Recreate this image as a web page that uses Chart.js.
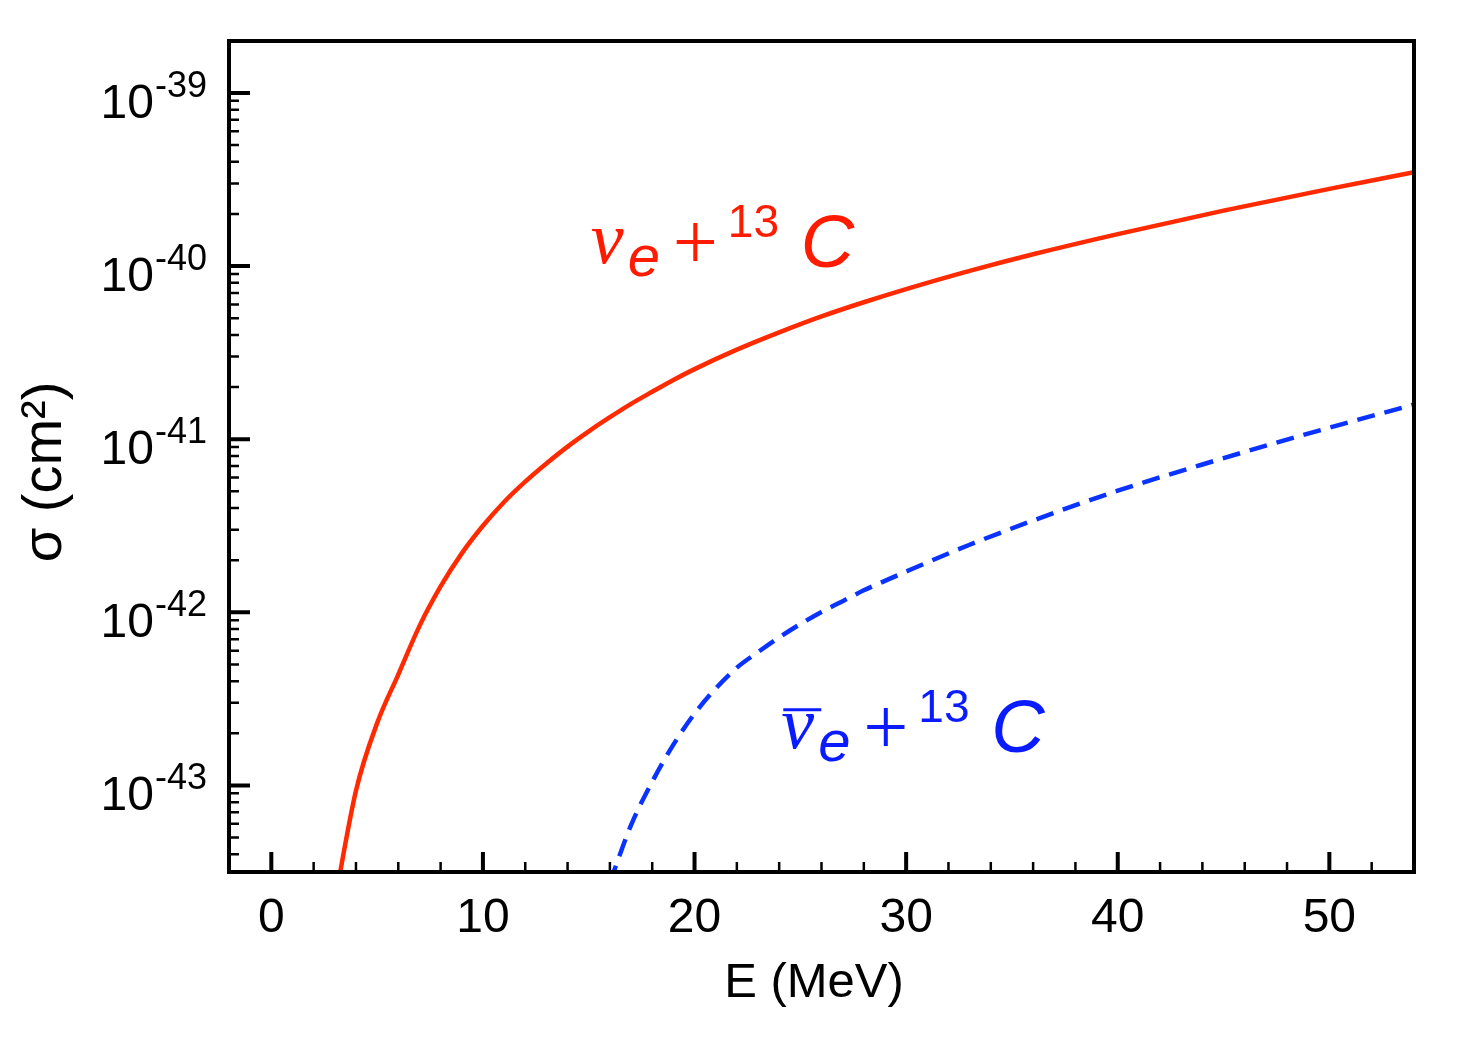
<!DOCTYPE html>
<html>
<head>
<meta charset="utf-8">
<title>Cross sections on 13C</title>
<script src="https://cdn.jsdelivr.net/npm/chart.js@4.4.1/dist/chart.umd.min.js"></script>
<style>
  body { margin: 0; background: #fff; }
  #wrap { width: 1457px; height: 1040px; }
</style>
</head>
<body>
<div id="wrap"><canvas id="chart" width="1457" height="1040"></canvas></div>
<script>
// neutrino energy (MeV) and cross section (cm^2)
const energyNu = [3, 4, 5, 6, 7, 8, 9, 10, 11, 12, 13, 14, 15, 16, 17, 18, 19, 20, 22, 24, 26, 28, 30,
  33, 36, 40, 45, 50, 54];
const sigmaNu = [2.14e-44, 9.33e-44, 2.29e-43, 4.37e-43, 8.32e-43, 1.41e-42, 2.19e-42, 3.16e-42,
  4.34e-42, 5.69e-42, 7.24e-42, 9.06e-42, 1.11e-41, 1.34e-41, 1.60e-41, 1.88e-41, 2.20e-41, 2.54e-41,
  3.29e-41, 4.14e-41, 5.12e-41, 6.18e-41, 7.36e-41, 9.38e-41, 1.17e-40, 1.53e-40, 2.09e-40, 2.79e-40,
  3.48e-40];

const energyNuBar = [16, 17, 18, 19, 20, 21, 22, 23, 24, 25, 26, 27, 28, 29, 30, 33, 36, 40, 44, 48, 51, 54];
const sigmaNuBar = [2.75e-44, 5.9e-44, 1.05e-43, 1.72e-43, 2.60e-43, 3.63e-43, 4.79e-43, 5.89e-43,
  7.16e-43, 8.55e-43, 1.005e-42, 1.16e-42, 1.34e-42, 1.52e-42, 1.72e-42, 2.455e-42, 3.39e-42,
  5.04e-42, 7.14e-42, 9.95e-42, 1.26e-41, 1.585e-41];

// axis ticks
const xMajorTicks = [0, 10, 20, 30, 40, 50];
const xMinorTicks = [2, 4, 6, 8, 12, 14, 16, 18, 22, 24, 26, 28, 32, 34, 36, 38, 42, 44, 46, 48, 52];
const yMajorTicks = [1e-39, 1e-40, 1e-41, 1e-42, 1e-43];
const yTickExponents = ['-39', '-40', '-41', '-42', '-43'];
const xRange = [-2, 54];
const yRange = [Math.pow(10, -43.5), Math.pow(10, -38.7)];

// where the two reaction labels sit (data coords of the nu baseline start)
const labelNu = { x: 15.1, y: 1.04e-40 };
const labelNuBar = { x: 24.1, y: 1.64e-43 };

const toPoints = (xs, ys) => xs.map((x, i) => ({ x: x, y: ys[i] }));

function yMinorTicks() {
  const out = [];
  for (let d = -44; d <= -39; d++) {
    for (let m = 2; m <= 9; m++) {
      const v = m * Math.pow(10, d);
      if (v > yRange[0] && v < yRange[1] * 0.999) out.push(v);
    }
  }
  return out;
}

function drawReaction(ctx, x, y, color, bar) {
  ctx.save();
  ctx.fillStyle = color;
  ctx.textAlign = 'left';
  ctx.textBaseline = 'alphabetic';
  ctx.font = 'italic 74px "Liberation Serif"';
  ctx.fillText('\u03bd', x, y);
  if (bar) ctx.fillRect(x + 2, y - 40, 38, 3);
  ctx.font = 'italic 58px "Liberation Sans"';
  ctx.fillText('e', x + 37, y + 13);
  ctx.font = '80px "Liberation Serif"';
  ctx.fillText('+', x + 82, y + 6);
  ctx.font = '46px "Liberation Sans"';
  ctx.fillText('13', x + 137, y - 26);
  ctx.font = 'italic 74px "Liberation Sans"';
  ctx.fillText('C', x + 210, y + 4);
  ctx.restore();
}

const framePlugin = {
  id: 'frame',
  afterDraw(chart) {
    const ctx = chart.ctx;
    const a = chart.chartArea;
    const xs = chart.scales.x;
    const ys = chart.scales.y;
    ctx.save();
    ctx.strokeStyle = '#000';
    ctx.fillStyle = '#000';

    // inward ticks on bottom and left
    ctx.lineWidth = 4;
    ctx.beginPath();
    xMajorTicks.forEach(v => {
      const px = xs.getPixelForValue(v);
      ctx.moveTo(px, a.bottom); ctx.lineTo(px, a.bottom - 20);
    });
    yMajorTicks.forEach(v => {
      const py = ys.getPixelForValue(v);
      ctx.moveTo(a.left, py); ctx.lineTo(a.left + 21, py);
    });
    ctx.stroke();
    ctx.lineWidth = 2.5;
    ctx.beginPath();
    xMinorTicks.forEach(v => {
      const px = xs.getPixelForValue(v);
      ctx.moveTo(px, a.bottom); ctx.lineTo(px, a.bottom - 10);
    });
    yMinorTicks().forEach(v => {
      const py = ys.getPixelForValue(v);
      ctx.moveTo(a.left, py); ctx.lineTo(a.left + 10, py);
    });
    ctx.stroke();

    // frame
    ctx.lineWidth = 4;
    ctx.strokeRect(a.left, a.top, a.right - a.left, a.bottom - a.top);

    // tick labels
    ctx.font = '48px "Liberation Sans"';
    ctx.textAlign = 'center';
    ctx.textBaseline = 'alphabetic';
    xMajorTicks.forEach(v => {
      ctx.fillText(String(v), xs.getPixelForValue(v), a.bottom + 60);
    });
    yMajorTicks.forEach((v, i) => {
      const py = ys.getPixelForValue(v);
      ctx.font = '48px "Liberation Sans"';
      ctx.textAlign = 'right';
      ctx.fillText('10', 154, py + 25);
      ctx.font = '36px "Liberation Sans"';
      ctx.textAlign = 'left';
      ctx.fillText(yTickExponents[i], 155, py + 4);
    });

    // axis titles
    ctx.font = '49px "Liberation Sans"';
    ctx.textAlign = 'center';
    ctx.fillText('E (MeV)', 814, 997);
    ctx.save();
    ctx.translate(61, 472);
    ctx.rotate(-Math.PI / 2);
    ctx.font = '56px "Liberation Sans"';
    ctx.fillText('\u03c3 (cm\u00b2)', 0, 0);
    ctx.restore();

    // reaction labels
    drawReaction(ctx, xs.getPixelForValue(labelNu.x), ys.getPixelForValue(labelNu.y), '#ff1a00', false);
    drawReaction(ctx, xs.getPixelForValue(labelNuBar.x), ys.getPixelForValue(labelNuBar.y), '#0a1cff', true);
    ctx.restore();
  }
};

new Chart(document.getElementById('chart'), {
  type: 'line',
  data: {
    datasets: [
      {
        label: 'nu_e + 13C',
        data: toPoints(energyNu, sigmaNu),
        borderColor: '#ff2a00',
        borderWidth: 4.5,
        pointRadius: 0,
        cubicInterpolationMode: 'monotone',
        fill: false,
        clip: 0
      },
      {
        label: 'anti nu_e + 13C',
        data: toPoints(energyNuBar, sigmaNuBar),
        borderColor: '#0a33ff',
        borderWidth: 4.5,
        borderDash: [18, 10],
        pointRadius: 0,
        cubicInterpolationMode: 'monotone',
        fill: false,
        clip: 0
      }
    ]
  },
  options: {
    responsive: false,
    animation: false,
    events: [],
    layout: { padding: { top: 41, right: 43, left: 0, bottom: 0 } },
    plugins: { legend: { display: false }, tooltip: { enabled: false } },
    scales: {
      x: {
        type: 'linear',
        min: xRange[0],
        max: xRange[1],
        ticks: { display: false },
        grid: { display: false },
        border: { display: false },
        afterFit(scale) { scale.height = 168; }
      },
      y: {
        type: 'logarithmic',
        min: yRange[0],
        max: yRange[1],
        ticks: { display: false },
        grid: { display: false },
        border: { display: false },
        afterFit(scale) { scale.width = 229; }
      }
    }
  },
  plugins: [framePlugin]
});
</script>
</body>
</html>
